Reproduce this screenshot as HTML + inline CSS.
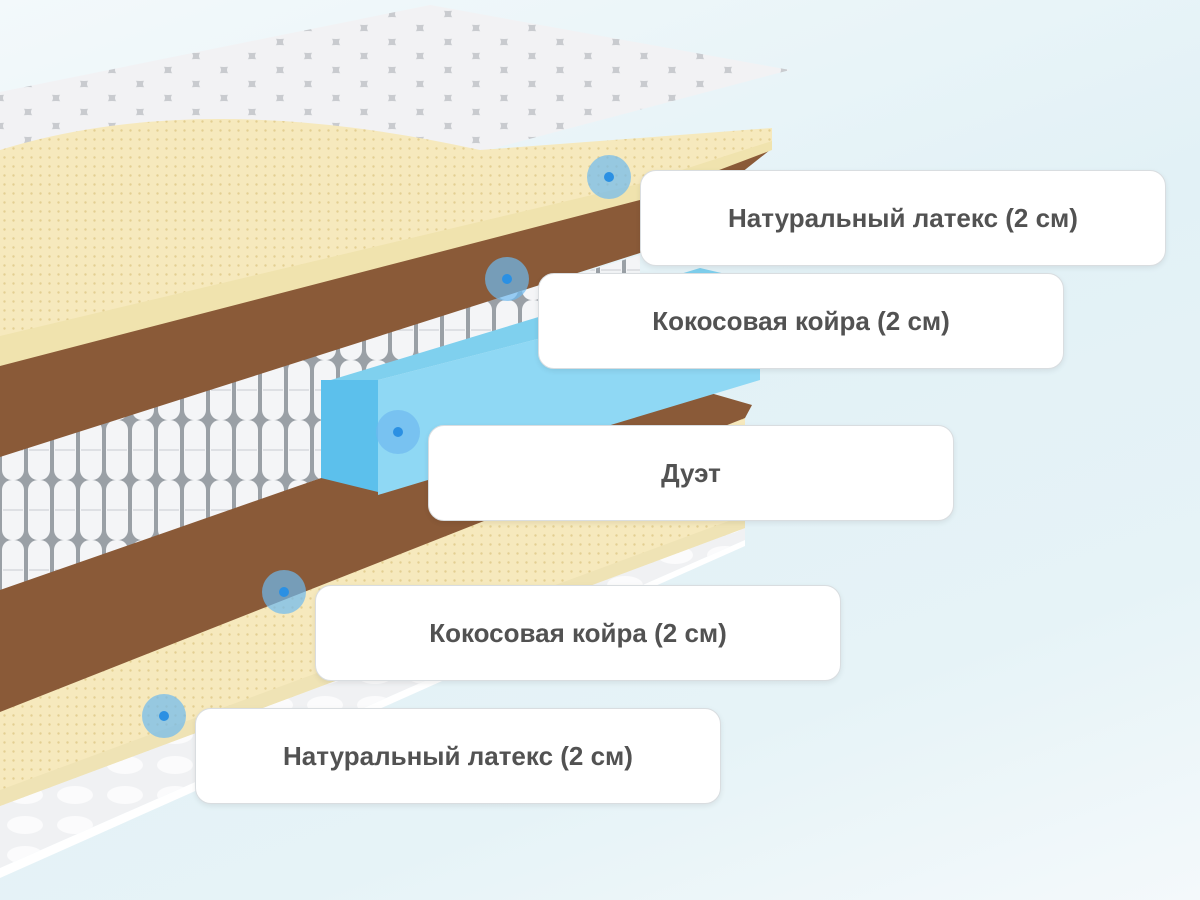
<!DOCTYPE html>
<html><head><meta charset="utf-8"><style>
html,body{margin:0;padding:0}
body{width:1200px;height:900px;overflow:hidden;position:relative;background:linear-gradient(160deg,#f3f9fb 0%,#e2f1f6 45%,#e6f3f7 75%,#f4f9fb 100%);font-family:"Liberation Sans",sans-serif}
.lb{position:absolute;background:#fff;border:1px solid #d9dde0;border-radius:16px;box-shadow:0 2px 6px rgba(0,0,0,.08);display:flex;align-items:center;justify-content:center;font-weight:bold;font-size:26px;color:#525252;height:94px;width:524px}
svg{position:absolute;left:0;top:0}
</style></head><body>
<svg width="1200" height="900" viewBox="0 0 1200 900">
<defs>
<pattern id="dots" width="9" height="9" patternUnits="userSpaceOnUse"><rect width="9" height="9" fill="#f6e9bd"/><circle cx="4.5" cy="4.5" r="1.2" fill="#e3cf92"/></pattern>
<pattern id="quilt" width="56" height="28" patternUnits="userSpaceOnUse"><rect width="56" height="28" fill="#c9cbcf"/><ellipse cx="28" cy="14" rx="25" ry="11" fill="#f2f2f4"/><ellipse cx="0" cy="0" rx="25" ry="11" fill="#f2f2f4"/><ellipse cx="56" cy="0" rx="25" ry="11" fill="#f2f2f4"/><ellipse cx="0" cy="28" rx="25" ry="11" fill="#f2f2f4"/><ellipse cx="56" cy="28" rx="25" ry="11" fill="#f2f2f4"/></pattern>
<pattern id="spr" width="26" height="60" patternUnits="userSpaceOnUse"><rect width="26" height="60" fill="#9aa0a6"/><rect x="2" y="0" width="22" height="60" rx="10" fill="#f4f5f7"/><line x1="3" y1="30" x2="23" y2="30" stroke="#c8ccd0"/></pattern>
<pattern id="bot" width="50" height="30" patternUnits="userSpaceOnUse"><rect width="50" height="30" fill="#f0f1f3"/><ellipse cx="25" cy="15" rx="18" ry="9" fill="#fbfbfc"/></pattern>
</defs>
<polygon points="0,800 745,522 745,540 0,868" fill="url(#bot)"/>
<polygon points="0,868 745,540 745,546 0,878" fill="#ffffff"/>
<polygon points="0,705 745,415 745,528 0,806" fill="url(#dots)"/>
<polygon points="0,790 745,515 745,528 0,806" fill="#efe3b5"/>
<polygon points="0,585 321,478 700,390 752,405 745,418 0,712" fill="#8a5a38"/>
<polygon points="0,450 640,255 640,292 321,383 321,478 0,590" fill="url(#spr)"/>
<polygon points="321,383 378,380 760,282 700,268" fill="#7fd0ee"/>
<polygon points="378,380 760,282 760,380 378,495" fill="#8fd8f4"/>
<polygon points="321,380 378,380 378,492 321,478" fill="#5cc0ec"/>
<polygon points="0,362 640,196 770,150 640,253 0,457" fill="#8a5a38"/>
<polygon points="0,92 430,5 790,70 480,152 420,140 0,152" fill="url(#quilt)"/>
<path d="M0,150 Q200,88 480,150 L772,128 L772,143 L638,186 L0,338 Z" fill="url(#dots)"/>
<polygon points="0,336 638,184 772,141 772,150 640,200 0,366" fill="#f0e3ae"/>
<g fill="rgba(110,185,240,0.7)"><circle cx="609" cy="177" r="22"/><circle cx="507" cy="279" r="22"/><circle cx="398" cy="432" r="22"/><circle cx="284" cy="592" r="22"/><circle cx="164" cy="716" r="22"/></g>
<g fill="#2b90e3"><circle cx="609" cy="177" r="5"/><circle cx="507" cy="279" r="5"/><circle cx="398" cy="432" r="5"/><circle cx="284" cy="592" r="5"/><circle cx="164" cy="716" r="5"/></g>
</svg>
<div class="lb" style="left:640px;top:170px">Натуральный латекс (2 см)</div>
<div class="lb" style="left:538px;top:273px">Кокосовая койра (2 см)</div>
<div class="lb" style="left:428px;top:425px">Дуэт</div>
<div class="lb" style="left:315px;top:585px">Кокосовая койра (2 см)</div>
<div class="lb" style="left:195px;top:708px">Натуральный латекс (2 см)</div>
</body></html>
